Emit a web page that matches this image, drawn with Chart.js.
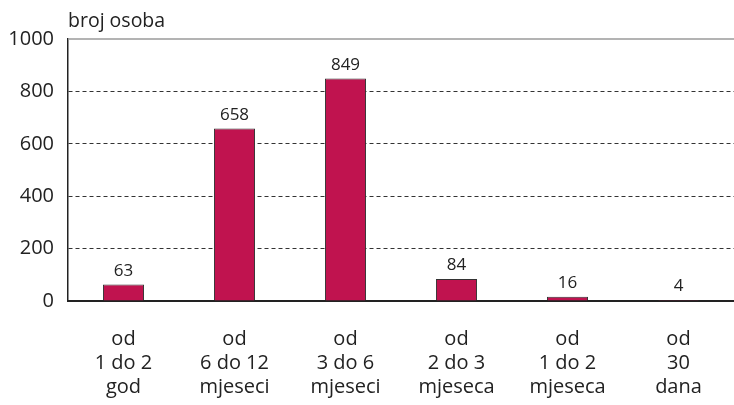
<!DOCTYPE html>
<html>
<head>
<meta charset="utf-8">
<script src="https://cdn.jsdelivr.net/npm/chart.js@4"></script>
<style>
  html, body { margin: 0; padding: 0; background: #fff; }
  #wrap { width: 734px; height: 405px; }
</style>
</head>
<body>
<div id="wrap"><canvas id="chart"></canvas></div>
<script>
const categories = [
    ["od", "1 do 2", "god"],
    ["od", "6 do 12", "mjeseci"],
    ["od", "3 do 6", "mjeseci"],
    ["od", "2 do 3", "mjeseca"],
    ["od", "1 do 2", "mjeseca"],
    ["od", "30", "dana"]
];
const values = [63, 658, 849, 84, 16, 4];
const yTicks = [0, 200, 400, 600, 800, 1000];
const yTitle = "broj osoba";

const FONT = "'Open Sans', 'Noto Sans', sans-serif";

// value labels above bars, axis caption and top frame line
const extras = {
    id: 'extras',
    afterDatasetsDraw(chart) {
        const ctx = chart.ctx;
        const area = chart.chartArea;
        ctx.save();
        ctx.strokeStyle = '#9a9a9a';
        ctx.lineWidth = 1.5;
        ctx.beginPath();
        ctx.moveTo(area.left, area.top);
        ctx.lineTo(area.right, area.top);
        ctx.stroke();

        ctx.fillStyle = '#222';
        ctx.font = '17px ' + FONT;
        ctx.textAlign = 'center';
        ctx.textBaseline = 'bottom';
        chart.getDatasetMeta(0).data.forEach((bar, i) => {
            ctx.fillText(String(values[i]), bar.x, bar.y - 5);
        });

        ctx.font = '19.5px ' + FONT;
        ctx.textAlign = 'left';
        ctx.textBaseline = 'middle';
        ctx.fillText(yTitle, area.left, area.top - 18);
        ctx.restore();
    }
};

const ctx = document.getElementById('chart').getContext('2d');
new Chart(ctx, {
    type: 'bar',
    data: {
        labels: categories,
        datasets: [{
            data: values,
            backgroundColor: '#C0134F',
            borderColor: '#333',
            borderWidth: 1,
            barPercentage: 0.37,
            categoryPercentage: 1
        }]
    },
    options: {
        responsive: true,
        maintainAspectRatio: false,
        animation: false,
        layout: { padding: { top: 39, right: 0, left: 0, bottom: 0 } },
        plugins: {
            legend: { display: false },
            tooltip: { enabled: false }
        },
        scales: {
            x: {
                grid: { display: false },
                border: { color: '#222', width: 2 },
                ticks: {
                    color: '#222',
                    font: { family: FONT, size: 20, lineHeight: 1.2 },
                    padding: 18,
                    maxRotation: 0,
                    autoSkip: false
                },
                afterFit(scale) { scale.height = 104; }
            },
            y: {
                min: 0,
                max: 1000,
                afterBuildTicks(scale) { scale.ticks = yTicks.map(v => ({ value: v })); },
                grid: {
                    color: c => (c.tick && (c.tick.value === 0 || c.tick.value === 1000)) ? 'rgba(0,0,0,0)' : '#333',
                    lineWidth: 1,
                    drawTicks: false
                },
                border: { color: '#222', width: 1.5, dash: [4, 3] },
                ticks: {
                    color: '#222',
                    font: { family: FONT, size: 20 },
                    padding: 14,
                    callback: v => String(v)
                },
                afterFit(scale) { scale.width = 68; }
            }
        }
    },
    plugins: [extras]
});
</script>
</body>
</html>
